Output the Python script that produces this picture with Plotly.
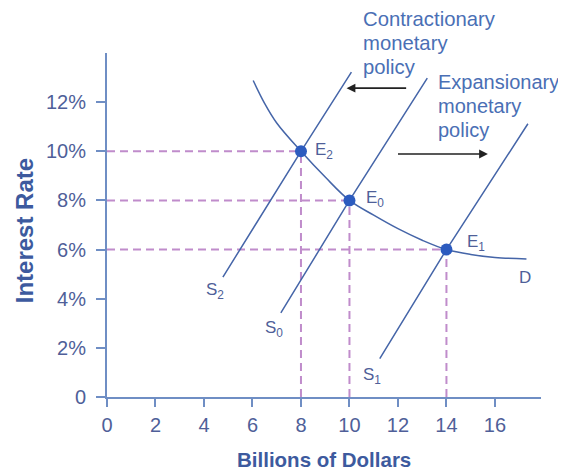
import plotly.graph_objects as go

# ---- data ----
D_x = [6.03, 6.5, 7.0, 8.0, 9.0, 10.0, 11.0, 12.0, 13.0, 14.0, 15.0, 16.0, 17.3]
D_y = [12.88, 11.95, 11.15, 10.0, 8.95, 8.0, 7.40, 6.85, 6.38, 6.0, 5.80, 5.68, 5.62]

S2_x = [4.78, 8.0, 10.08]
S2_y = [4.88, 10.0, 13.22]
S0_x = [7.17, 10.0, 13.21]
S0_y = [3.42, 8.0, 12.98]
S1_x = [11.25, 14.0, 17.36]
S1_y = [1.56, 6.0, 11.12]

E_x = [8, 10, 14]
E_y = [10, 8, 6]
E_labels = ["E<sub>2</sub>", "E<sub>0</sub>", "E<sub>1</sub>"]

x_ticks = [0, 2, 4, 6, 8, 10, 12, 14, 16]
y_ticks = [0, 2, 4, 6, 8, 10, 12]
y_ticktext = ["0", "2%", "4%", "6%", "8%", "10%", "12%"]

AXIS = "#6f8ec4"
CURVE = "#4565a8"
DOT = "#2c5bbf"
DASH = "#c08ccb"
TICKTXT = "#4f5f99"
TITLE = "#3d5a9e"
NOTE = "#4a6fb5"
FONT = "Liberation Sans, Arial, sans-serif"

# the page body adds an 8px margin, so the figure is drawn 8px in from the corner
OFF = 8
W, H = 566 - OFF, 471 - OFF
L, T = 107 - OFF, 53 - OFF
R = W - (541.5 - OFF)
B = H - (396.7 - OFF)
pw, ph = W - L - R, H - T - B


def px(xp):
    return (xp - OFF - L) / pw


def py(yp):
    return (H - B - (yp - OFF)) / ph


fig = go.Figure()

# dashed guide lines to each equilibrium
for ex, ey in zip(E_x, E_y):
    fig.add_trace(go.Scatter(x=[0, ex], y=[ey, ey], mode="lines",
                             line=dict(color=DASH, width=2, dash="8px,5px"),
                             hoverinfo="skip", showlegend=False))
    fig.add_trace(go.Scatter(x=[ex, ex], y=[0, ey], mode="lines",
                             line=dict(color=DASH, width=2, dash="8px,5px"),
                             hoverinfo="skip", showlegend=False))

# supply and demand curves
for xs, ys in [(S2_x, S2_y), (S0_x, S0_y), (S1_x, S1_y)]:
    fig.add_trace(go.Scatter(x=xs, y=ys, mode="lines",
                             line=dict(color=CURVE, width=1.5),
                             showlegend=False))
fig.add_trace(go.Scatter(x=D_x, y=D_y, mode="lines", line_shape="spline",
                         line=dict(color=CURVE, width=1.5), showlegend=False))

# equilibrium points
fig.add_trace(go.Scatter(x=E_x, y=E_y, mode="markers",
                         marker=dict(color=DOT, size=12), showlegend=False))

annotations = []
# equilibrium labels
for ex, ey, lab, xs, ys in zip(E_x, E_y, E_labels, [12, 15, 19], [0, 1, 7]):
    annotations.append(dict(x=ex, y=ey, text=lab, showarrow=False, xanchor="left",
                            yanchor="middle", xshift=xs, yshift=ys,
                            font=dict(family=FONT, size=17, color=TICKTXT)))
# supply labels and D
for tx, ty, lab in [(4.45, 4.32, "S<sub>2</sub>"), (6.9, 2.75, "S<sub>0</sub>"),
                    (10.95, 0.87, "S<sub>1</sub>"), (17.25, 4.85, "D")]:
    annotations.append(dict(x=tx, y=ty, text=lab, showarrow=False,
                            xanchor="center", yanchor="middle",
                            font=dict(family=FONT, size=17, color=TICKTXT)))

# policy notes (one annotation per line), positioned in pixels
for i, line in enumerate(["Contractionary", "monetary", "policy"]):
    annotations.append(dict(x=px(361), y=py(19 + 24 * i), xref="paper", yref="paper",
                            text=line, showarrow=False, xanchor="left", yanchor="middle",
                            font=dict(family=FONT, size=20.3, color=NOTE)))
for i, line in enumerate(["Expansionary", "monetary", "policy"]):
    annotations.append(dict(x=px(436), y=py(82 + 24 * i), xref="paper", yref="paper",
                            text=line, showarrow=False, xanchor="left", yanchor="middle",
                            font=dict(family=FONT, size=20, color=NOTE)))

# arrows
annotations.append(dict(x=9.88, y=12.57, ax=12.40, ay=12.57, xref="x", yref="y",
                        axref="x", ayref="y", text="", showarrow=True,
                        arrowhead=2, arrowsize=1.1, arrowwidth=1.6, arrowcolor="#222222"))
annotations.append(dict(x=15.71, y=9.89, ax=11.94, ay=9.89, xref="x", yref="y",
                        axref="x", ayref="y", text="", showarrow=True,
                        arrowhead=2, arrowsize=1.1, arrowwidth=1.6, arrowcolor="#222222"))

# axis titles
annotations.append(dict(x=px(24), y=py(231), xref="paper", yref="paper",
                        text="<b>Interest Rate</b>", showarrow=False, textangle=-90,
                        xanchor="center", yanchor="middle",
                        font=dict(family=FONT, size=24, color=TITLE)))
annotations.append(dict(x=px(324), y=py(459), xref="paper", yref="paper",
                        text="<b>Billions of Dollars</b>", showarrow=False,
                        xanchor="center", yanchor="middle",
                        font=dict(family=FONT, size=20.5, color=TITLE)))

fig.update_layout(
    width=W, height=H,
    margin=dict(l=L, r=R, t=T, b=B, autoexpand=False),
    plot_bgcolor="white", paper_bgcolor="white",
    annotations=annotations,
    xaxis=dict(range=[0, 17.9], tickvals=x_ticks, ticks="outside", ticklen=8,
               tickwidth=2, tickcolor=AXIS, showline=True, linecolor=AXIS, linewidth=2,
               showgrid=False, zeroline=False, ticklabelstandoff=1,
               tickfont=dict(family=FONT, size=20, color=TICKTXT)),
    yaxis=dict(range=[0, 14], tickvals=y_ticks, ticktext=y_ticktext, ticks="outside",
               ticklen=9, tickwidth=2, tickcolor=AXIS, showline=True, linecolor=AXIS,
               linewidth=2, showgrid=False, zeroline=False, ticklabelstandoff=6,
               tickfont=dict(family=FONT, size=20, color=TICKTXT)),
)

fig.write_html("out.html")
